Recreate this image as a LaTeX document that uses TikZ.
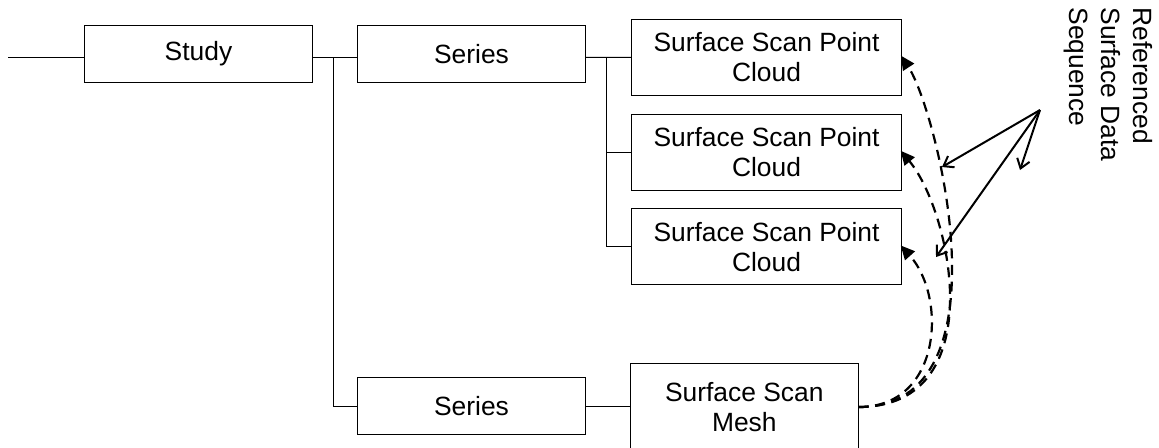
\documentclass[tikz,border=0pt]{standalone}
\usepackage{fontspec}
\setmainfont{Liberation Sans}
\usetikzlibrary{positioning,arrows.meta}

\begin{document}
\begin{tikzpicture}[x=1pt, y=1pt,
  box/.style={draw, line width=0.5pt, inner sep=0pt, align=center, font=\fontsize{13.2pt}{15pt}\selectfont},
  ref/.style={line width=1.1pt, dash pattern=on 5pt off 3.3pt, shorten >=-1pt, -{Triangle[length=7pt,width=6.5pt]}},
  pick/.style={line width=1pt, -{Straight Barb[length=4.5pt,width=6.5pt]}}]
\useasboundingbox (0,0) rectangle (579.5,-223.5);
\node[box, minimum width=114pt, minimum height=28.5pt] (study) at (99.25,-26.8) {Study};
\node[box, minimum width=114pt, minimum height=28.5pt, right=22pt of study] (series1) {Series};
\node[box, minimum width=135pt, minimum height=38pt, right=22.5pt of series1, yshift=-1.85pt] (cloud1) {Surface Scan Point\\Cloud};
\node[box, minimum width=135pt, minimum height=38pt, below=9pt of cloud1] (cloud2) {Surface Scan Point\\Cloud};
\node[box, minimum width=135pt, minimum height=38pt, below=8.8pt of cloud2] (cloud3) {Surface Scan Point\\Cloud};
\node[box, minimum width=114pt, minimum height=28.5pt, below=147.2pt of series1] (series2) {Series};
\node[box, minimum width=113.8pt, minimum height=44pt, right=22pt of series2, yshift=-0.5pt] (mesh) {Surface Scan\\Mesh};
\node[rotate=-90, anchor=north west, align=left, inner sep=0pt, font=\fontsize{13.2pt}{16pt}\selectfont] (label) at (576.5,-3.5) {Referenced\\Surface Data\\Sequence};
% tree lines
\coordinate (start) at (4.15,-28.65);
\coordinate (j1) at (166.5,-28.65);
\coordinate (j2) at (303,-28.65);
\draw[line width=0.5pt] (start) -- (start -| study.west);
\draw[line width=0.5pt] (study.east |- j1) -- (series1.west |- j1);
\draw[line width=0.5pt] (j1) |- (series2.west);
\draw[line width=0.5pt] (series1.east |- j2) -- (cloud1.west);
\draw[line width=0.5pt] (j2) |- (cloud2.west);
\draw[line width=0.5pt] (j2) |- (cloud3.west);
\draw[line width=0.5pt] (series2.east) -- (series2.east -| mesh.west);
% references from the mesh
\draw[ref] (mesh.east) .. controls +(76.7,0) and +(17.5,-26.4) .. (cloud1.east);
\draw[ref] (mesh.east) .. controls +(66.7,0) and +(25,-30) .. (cloud2.east);
\draw[ref] (mesh.east) .. controls +(41.7,0) and +(22.5,-25) .. (cloud3.east);
% label pointers
\coordinate (src) at (520,-55);
\coordinate (tipA) at (471,-83.5);
\coordinate (tipB) at (468,-128.5);
\coordinate (tipC) at (510,-85);
\draw[pick] (src) -- (tipA);
\draw[pick] (src) -- (tipB);
\draw[pick] (src) -- (tipC);
\end{tikzpicture}
\end{document}
